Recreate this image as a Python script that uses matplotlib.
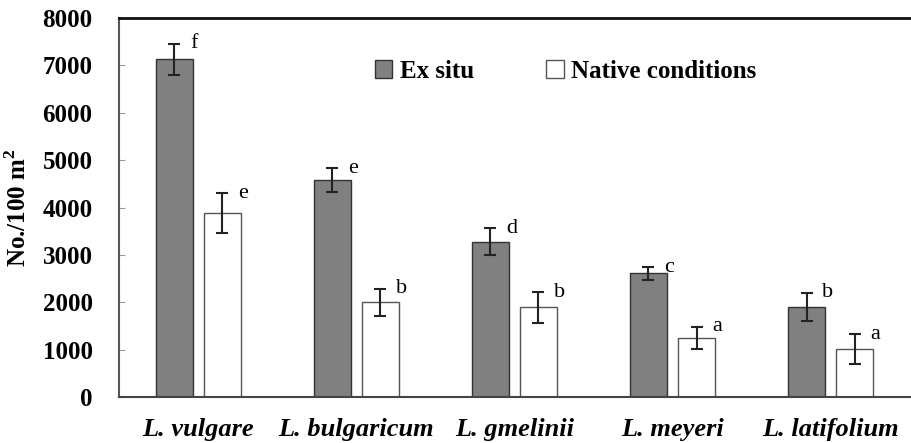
import numpy as np
import matplotlib.pyplot as plt

species = ["L. vulgare", "L. bulgaricum", "L. gmelinii", "L. meyeri", "L. latifolium"]
ex_situ = [7130, 4580, 3280, 2610, 1905]
ex_situ_err = [330, 250, 285, 130, 295]
native = [3880, 2000, 1890, 1250, 1010]
native_err = [420, 280, 320, 230, 320]
ex_letters = ["f", "e", "d", "c", "b"]
native_letters = ["e", "b", "b", "a", "a"]

plt.rcParams["font.family"] = ["Liberation Serif", "DejaVu Serif"]
plt.rcParams["mathtext.fontset"] = "custom"
plt.rcParams["mathtext.rm"] = "Liberation Serif"
plt.rcParams["mathtext.bf"] = "Liberation Serif:bold"

fig = plt.figure(figsize=(9.11, 4.43), dpi=100)
ax = fig.add_axes([0.1306, 0.1038, 0.868, 0.8556])

x = np.arange(len(species))
w = 0.234
off = 0.152
err_kw = dict(ecolor="#222222", elinewidth=1.5, capsize=4, capthick=1.5)
ax.bar(x - off, ex_situ, w, yerr=ex_situ_err, color="#808080",
       edgecolor="#333333", linewidth=1.0, error_kw=err_kw, label="Ex situ")
ax.bar(x + off, native, w, yerr=native_err, color="white",
       edgecolor="#555555", linewidth=1.0, error_kw=err_kw,
       label="Native conditions")

for i in range(len(species)):
    ax.text(x[i] - off + 0.1, ex_situ[i] + ex_situ_err[i], ex_letters[i],
            fontsize=16, ha="left", va="center")
    ax.text(x[i] + off + 0.1, native[i] + native_err[i], native_letters[i],
            fontsize=16, ha="left", va="center")

ax.set_xlim(-0.5, 4.5)
ax.set_ylim(0, 8000)
ax.set_yticks(range(0, 8001, 1000))
ax.set_xticks(x)
ax.set_xticklabels(species, fontsize=19, fontweight="bold", style="italic")
ax.tick_params(axis="x", length=0, pad=15)
ax.tick_params(axis="y", direction="in", length=4, color="#999999",
               labelsize=18, pad=19)
for lab in ax.get_yticklabels():
    lab.set_fontweight("bold")
ax.set_ylabel("No./100 m$^\\mathbf{2}$", fontsize=18, fontweight="bold",
              labelpad=8)

ax.spines["right"].set_visible(False)
ax.spines["top"].set_linewidth(2)
ax.spines["top"].set_color("#111111")
ax.spines["left"].set_color("#555555")
ax.spines["left"].set_linewidth(1.5)
ax.spines["bottom"].set_color("#444444")
ax.spines["bottom"].set_linewidth(1.5)

leg = ax.legend(ncol=2, loc="center", bbox_to_anchor=(0.565, 0.86),
                frameon=False, handlelength=0.7, handleheight=0.7,
                handletextpad=0.3, columnspacing=2.9,
                prop={"size": 18, "weight": "bold"})

fig.savefig("out.png", dpi=100)
